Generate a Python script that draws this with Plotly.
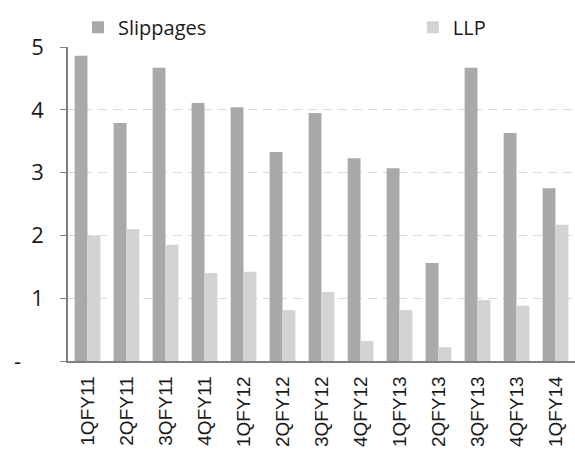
import plotly.graph_objects as go

quarters = ["1QFY11", "2QFY11", "3QFY11", "4QFY11", "1QFY12", "2QFY12", "3QFY12",
            "4QFY12", "1QFY13", "2QFY13", "3QFY13", "4QFY13", "1QFY14"]
slippages = [4.86, 3.79, 4.67, 4.11, 4.04, 3.33, 3.95, 3.23, 3.07, 1.56, 4.67, 3.63, 2.75]
llp = [2.00, 2.10, 1.85, 1.40, 1.42, 0.81, 1.10, 0.32, 0.81, 0.22, 0.97, 0.88, 2.17]

y_ticks = [0, 1, 2, 3, 4, 5]
y_ticktext = ["-" + "\u00a0" * 4, "1", "2", "3", "4", "5"]

FONT = "Open Sans"
LABEL_FONT = "Liberation Sans"
TEXT = "#1a1a1a"

fig = go.Figure()
fig.add_trace(go.Bar(name="Slippages", x=quarters, y=slippages, legend="legend",
                     marker=dict(color="#a9a9a9", line=dict(width=0))))
fig.add_trace(go.Bar(name="LLP", x=quarters, y=llp, legend="legend2",
                     marker=dict(color="#d3d3d3", line=dict(width=0))))

legend_common = dict(orientation="h", xref="container", yref="container",
                     xanchor="left", yanchor="middle", y=0.94,
                     font=dict(family=FONT, size=20, color=TEXT),
                     bgcolor="rgba(0,0,0,0)")

fig.update_layout(
    width=575, height=454,
    margin=dict(l=68, r=0, t=47, b=93, autoexpand=False),
    paper_bgcolor="white", plot_bgcolor="white",
    barmode="group", bargap=0.34, bargroupgap=0,
    font=dict(family=FONT, size=18, color=TEXT),
    showlegend=True,
    legend=dict(x=0.1357, **legend_common),
    legend2=dict(x=0.718, **legend_common),
    xaxis=dict(type="category", showgrid=False, showline=True,
               linecolor="#7f7f7f", linewidth=1.5, ticks="",
               ticklabelstandoff=6,
               tickangle=-90, tickfont=dict(family=LABEL_FONT, size=19, color=TEXT)),
    yaxis=dict(range=[0, 5], tickvals=y_ticks, ticktext=y_ticktext,
               showline=True, linecolor="#7f7f7f", linewidth=1.5,
               ticks="outside", ticklen=6, tickcolor="#7f7f7f",
               ticklabelstandoff=12,
               showgrid=True, gridcolor="#d9d9d9", gridwidth=1, griddash="9px,6px",
               zeroline=False,
               tickfont=dict(family=FONT, size=22, color=TEXT)),
)

fig.write_html("out.html")
